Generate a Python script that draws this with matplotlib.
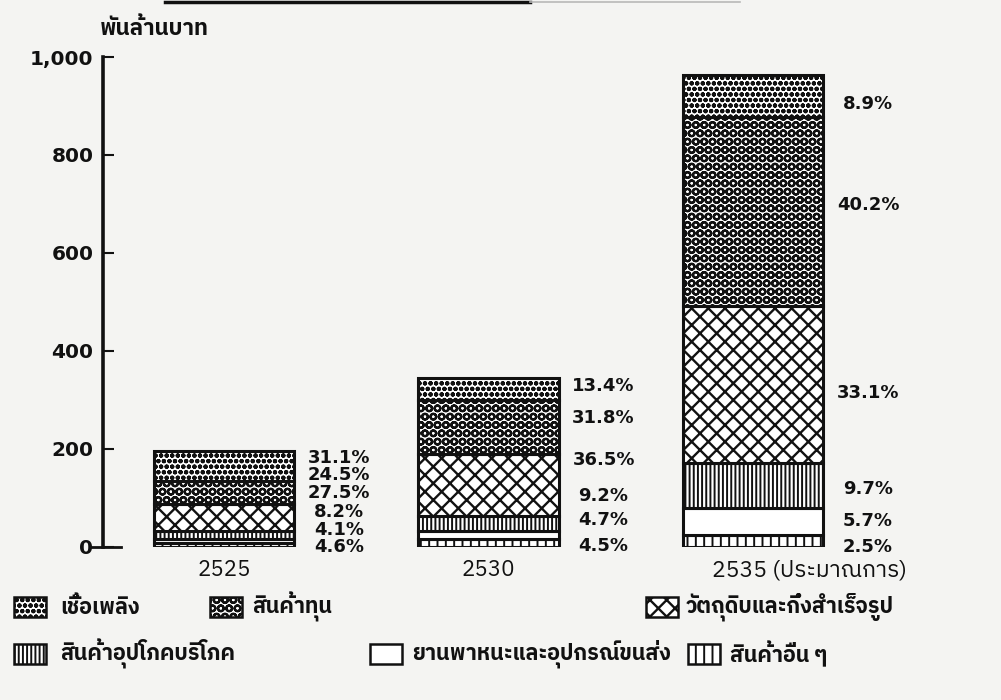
import numpy as np
import matplotlib
matplotlib.use("Agg")
import matplotlib.pyplot as plt
from matplotlib import font_manager
from matplotlib.ft2font import FT2Font
from matplotlib.patches import Rectangle
from matplotlib.lines import Line2D

# ── data (พันล้านบาท, shares in %) ──
YEARS = ["2525", "2530", "2535 (ประมาณการ)"]
TOTALS = [196, 345, 963]

CATEGORIES = [
    "สินค้าอื่น ๆ",
    "ยานพาหนะและอุปกรณ์ขนส่ง",
    "สินค้าอุปโภคบริโภค",
    "วัตถุดิบและกึ่งสำเร็จรูป",
    "สินค้าทุน",
    "เชื้อเพลิง",
]
OTHER = [4.6, 4.5, 2.5]
VEHICLES = [4.1, 4.7, 5.7]
CONSUMER = [8.2, 9.2, 9.7]
RAW = [27.5, 36.5, 33.1]
CAPITAL = [24.5, 31.8, 40.2]
FUEL = [31.1, 13.4, 8.9]
SHARES = [OTHER, VEHICLES, CONSUMER, RAW, CAPITAL, FUEL]

# ── styles ──
HATCHES = ["||", "", "||||", "xx", "OO", "ooo"]
HATCH_LW = [1.4, 1.4, 1.4, 1.7, 1.6, 1.5]

# label heights beside each bar (bottom -> top), layout only
LABEL_Y = [
    [0, 35, 71, 110, 147, 182],
    [2, 55, 104, 178, 263, 329],
    [0, 53, 118, 314, 698, 904],
]


def find_thai_font():
    found = []
    for path in font_manager.findSystemFonts():
        try:
            cmap = FT2Font(path).get_charmap()
        except Exception:
            continue
        if 0x0E01 in cmap and 0x0E49 in cmap:
            found.append(font_manager.FontProperties(fname=path).get_name())
    for name in found:
        if "Thai" in name:
            return name
    return found[0] if found else "DejaVu Sans"


THAI = find_thai_font()
plt.rcParams["font.family"] = [THAI, "DejaVu Sans"]
INK = "#111111"
BG = "#f4f4f2"

fig = plt.figure(figsize=(10.01, 7.0), dpi=100, facecolor=BG)
ax = fig.add_axes([103 / 1001, 153 / 700, 898 / 1001, 490 / 700])
ax.set_facecolor("none")

x = np.arange(len(YEARS))
width = 0.53
bottom = np.zeros(len(YEARS))
for cat, share, hatch, hlw in zip(CATEGORIES, SHARES, HATCHES, HATCH_LW):
    vals = np.array(TOTALS) * np.array(share) / 100.0
    with plt.rc_context({"hatch.linewidth": hlw}):
        ax.bar(x, vals, width, bottom=bottom, facecolor="white",
               edgecolor=INK, hatch=hatch, linewidth=2.2, zorder=2)
    bottom += vals

# percentage labels to the right of each bar
for i in range(len(YEARS)):
    for j, share in enumerate(SHARES):
        ax.text(x[i] + width / 2 + 0.17, LABEL_Y[i][j], f"{share[i]}%",
                ha="center", va="center", fontsize=13, fontweight="bold",
                color=INK, family=["DejaVu Sans"])

# year labels under the bars
for i, year in enumerate(YEARS):
    if i < 2:
        ax.text(x[i], -0.047, year, ha="center", va="center", fontsize=16,
                color=INK, transform=ax.get_xaxis_transform())
    else:
        ax.text(x[i] - 0.155, -0.047, year, ha="left", va="center",
                fontsize=16.5, color=INK, transform=ax.get_xaxis_transform())

ax.set_xlim(-0.4575, 2.9376)
ax.set_ylim(0, 1000)
ax.set_yticks(range(0, 1001, 200))
ax.set_yticklabels(["0", "200", "400", "600", "800", "1,000"],
                   family=["DejaVu Sans"], fontweight="bold")
ax.tick_params(axis="y", direction="in", length=8, width=1.5, pad=7,
               labelsize=14.5, colors=INK)
ax.set_xticks([])
for side in ["top", "right", "bottom"]:
    ax.spines[side].set_visible(False)
ax.spines["left"].set_linewidth(2.6)
ax.spines["left"].set_color(INK)
ax.plot([-0.012, 0.02], [0, 0], color=INK, linewidth=2.0,
        transform=ax.get_yaxis_transform(), clip_on=False)

# unit label
fig.text(100 / 1001, 1 - 28 / 700, "พันล้านบาท", ha="left", va="center",
         fontsize=16, fontweight="bold", color=INK)

# scrap of the title underline at the top edge
fig.add_artist(Line2D([165 / 1001, 530 / 1001], [1 - 1.5 / 700] * 2,
                      color=INK, linewidth=2.5))
fig.add_artist(Line2D([530 / 1001, 740 / 1001], [1 - 1.5 / 700] * 2,
                      color="#b8b8b8", linewidth=1.2))

# legend: (category index, patch left px, text left px, row centre px)
LEGEND = [
    (5, 14, 60, 607), (4, 210, 252, 607), (3, 646, 686, 607),
    (2, 14, 60, 654), (1, 370, 412, 654), (0, 688, 730, 654),
]
for k, px, tx, cy in LEGEND:
    w, h = 32, 20
    with plt.rc_context({"hatch.linewidth": HATCH_LW[k]}):
        fig.add_artist(Rectangle((px / 1001, 1 - (cy + h / 2) / 700),
                                 w / 1001, h / 700, transform=fig.transFigure,
                                 facecolor="white", edgecolor=INK,
                                 hatch=HATCHES[k], linewidth=1.8))
    fig.text(tx / 1001, 1 - cy / 700, CATEGORIES[k], ha="left", va="center",
             fontsize=15.5, fontweight="bold", color=INK)

fig.savefig("out.png", dpi=100, facecolor=BG)
